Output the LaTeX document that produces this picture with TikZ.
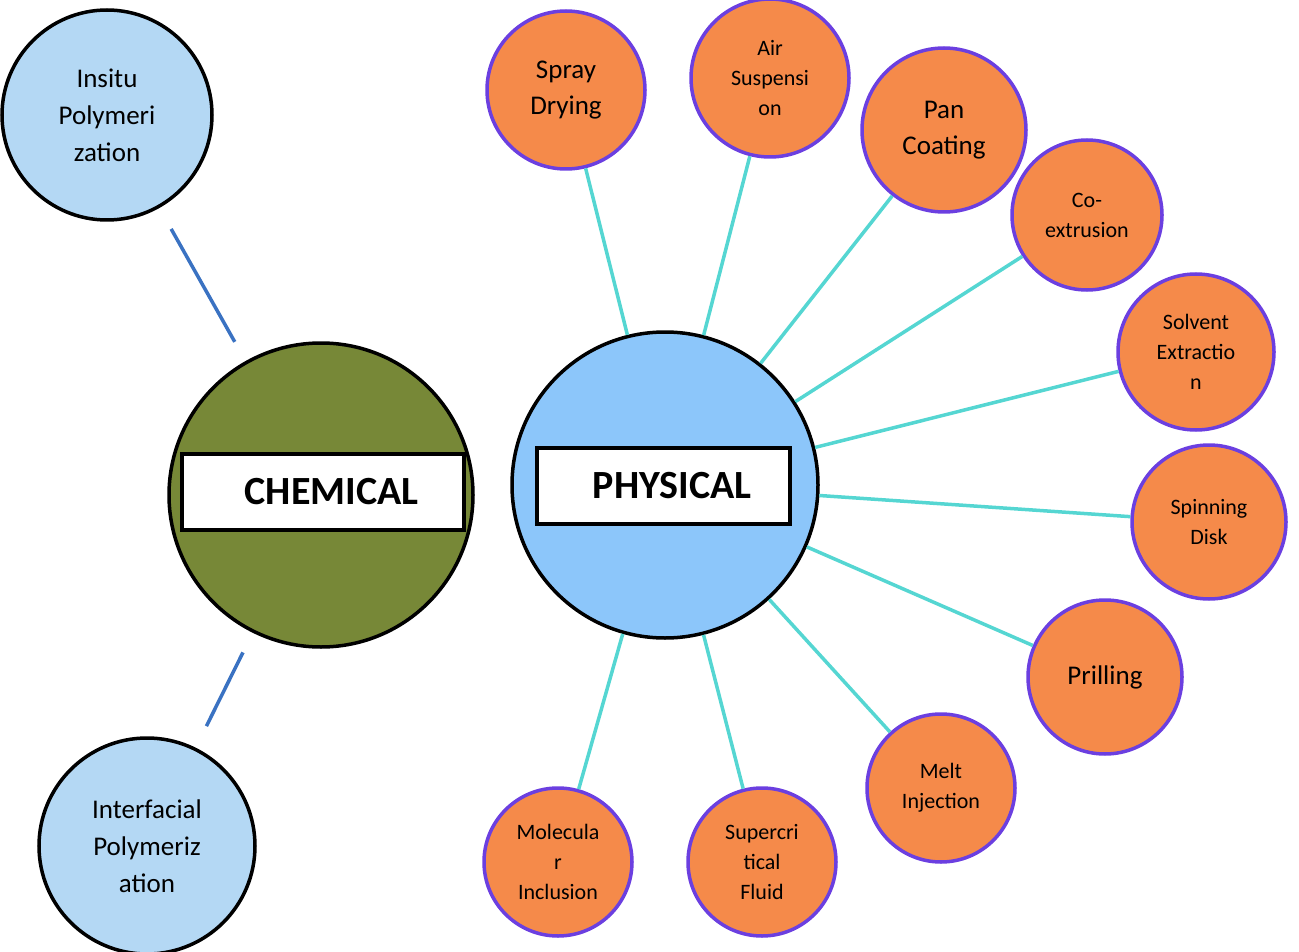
\documentclass[tikz,border=0pt]{standalone}
\usepackage{fontspec}
\setmainfont{Carlito}
\begin{document}
\begin{tikzpicture}[x=1pt,y=-1pt,
 blue/.style={circle,draw=black,line width=3.5pt,fill=blueC,inner sep=0,align=center,font=\fontsize{27}{37}\selectfont},
 orng/.style={circle,draw=purpC,line width=3.5pt,fill=orC,inner sep=0,align=center},
 big/.style={font=\fontsize{27}{36}\selectfont},
 small/.style={font=\fontsize{22}{30}\selectfont},
 tl/.style={draw=tealC,line width=3.5pt},
 bl/.style={draw=lineB,line width=3.5pt,shorten >=22pt,shorten <=24pt},
 lab/.style={draw=black,line width=3.5pt,fill=white,font=\bfseries\fontsize{40}{40}\selectfont,anchor=west,inner sep=0}]
\definecolor{blueC}{HTML}{B4D8F4}
\definecolor{physC}{HTML}{8CC6FA}
\definecolor{olive}{HTML}{778837}
\definecolor{orC}{HTML}{F58A4A}
\definecolor{purpC}{HTML}{6B3FE0}
\definecolor{tealC}{HTML}{55D6D2}
\definecolor{lineB}{HTML}{3A72C2}
\useasboundingbox (0,0) rectangle (1299,952);
\node[blue,minimum size=210pt] (ins) at (107,115) {Insitu\\Polymeri\\zation};
\node[blue,minimum size=216pt] (int) at (147,846) {Interfacial\\Polymeriz\\ation};
\node[circle,draw=black,line width=3.5pt,fill=olive,minimum size=304pt] (chem) at (321,495) {};
\node[circle,draw=black,line width=3.5pt,fill=physC,minimum size=306pt] (phys) at (665,485) {};
\draw[bl] (ins) -- (chem);
\draw[bl] (int) -- (chem);
\node[orng,big,minimum size=158pt] (sd) at (566,90) {Spray\\Drying};
\node[orng,small,minimum size=158pt] (as) at (770,78) {Air\\Suspensi\\on};
\node[orng,big,minimum size=164pt] (pc) at (944,130) {Pan\\Coating};
\node[orng,small,minimum size=150pt] (ce) at (1087,215) {Co-\\extrusion};
\node[orng,small,minimum size=156pt] (se) at (1196,352) {Solvent\\Extractio\\n};
\node[orng,small,minimum size=154pt] (spd) at (1209,522) {Spinning\\Disk};
\node[orng,big,minimum size=154pt] (pr) at (1105,677) {Prilling};
\node[orng,small,minimum size=148pt] (mi) at (941,788) {Melt\\Injection};
\node[orng,small,minimum size=148pt] (sf) at (762,862) {Supercri\\tical\\Fluid};
\node[orng,small,minimum size=148pt] (mo) at (558,862) {Molecula\\r\\Inclusion};
\foreach \n in {sd,as,pc,ce,se,spd,pr,mi,sf,mo} \draw[tl] (phys) -- (\n);
\node[lab,minimum width=282pt,minimum height=76pt] (cl) at (180,492) {\hspace{18pt}CHEMICAL};
\node[lab,minimum width=253pt,minimum height=76pt] (pl) at (535,486) {\hspace{18pt}PHYSICAL};
\end{tikzpicture}
\end{document}
